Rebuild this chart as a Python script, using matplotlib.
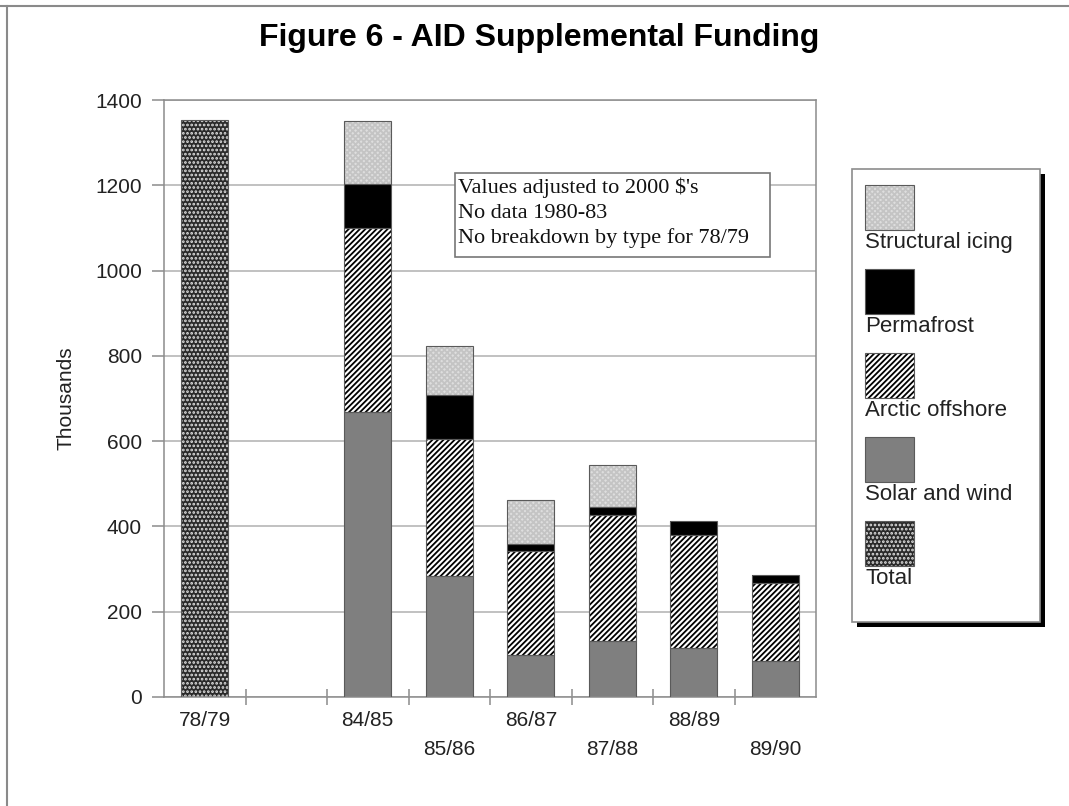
import numpy as np
import matplotlib
matplotlib.use("Agg")
import matplotlib.pyplot as plt
from matplotlib.patches import Rectangle
from matplotlib.lines import Line2D

plt.rcParams['font.family'] = ['Liberation Sans', 'DejaVu Sans']
plt.rcParams['hatch.linewidth'] = 1.3

# funding by year, in thousands of 2000 dollars
years = ['78/79', '', '84/85', '85/86', '86/87', '87/88', '88/89', '89/90']
total = np.array([1354, 0, 0, 0, 0, 0, 0, 0])
solar_wind = np.array([0, 0, 668, 284, 99, 132, 115, 85])
arctic_offshore = np.array([0, 0, 431, 321, 243, 294, 264, 182])
permafrost = np.array([0, 0, 105, 103, 16, 19, 33, 18])
structural_icing = np.array([0, 0, 146, 115, 105, 98, 0, 0])

note_lines = ["Values adjusted to 2000 $'s", "No data 1980-83",
              "No breakdown by type for 78/79"]

W, H = 1069, 806
fig = plt.figure(figsize=(W / 100, H / 100), dpi=100)
ax = fig.add_axes([164 / W, 1 - 697 / H, 652 / W, 597 / H])

# (label, values, fill colour, hatch, hatch colour)
stack = [
    ('Solar and wind', solar_wind, '#7f7f7f', None, '#7f7f7f'),
    ('Arctic offshore', arctic_offshore, 'white', '//////', 'black'),
    ('Permafrost', permafrost, 'black', None, 'black'),
    ('Structural icing', structural_icing, '#dedede', 'xxxxxx', '#c4c4c4'),
]
total_style = ('Total', total, '#2a2a2a', '....', '#e0e0e0')

x = np.arange(len(years))
width = 0.58


def draw_bars(xs, heights, bottoms, face, hatch, hcolor):
    ax.bar(xs, heights, width, bottom=bottoms, color=face, hatch=hatch,
           edgecolor=hcolor, linewidth=0, zorder=2)
    ax.bar(xs, heights, width, bottom=bottoms, facecolor='none',
           edgecolor='#5a5a5a', linewidth=0.8, zorder=3)


keep = total > 0
draw_bars(x[keep], total[keep], 0, *total_style[2:])

bottom = np.zeros(len(years))
for name, vals, face, hatch, hcolor in stack:
    keep = vals > 0
    draw_bars(x[keep], vals[keep], bottom[keep], face, hatch, hcolor)
    bottom = bottom + vals

# axes styling
ax.set_xlim(-0.5, len(years) - 0.5)
ax.set_ylim(0, 1400)
ax.set_yticks(np.arange(0, 1401, 200))
ax.yaxis.grid(True, color='#b0b0b0', linewidth=1.1)
ax.set_axisbelow(True)
for s in ax.spines.values():
    s.set_color('#8c8c8c')
    s.set_linewidth(1.1)

ax.set_xticks(x)
ax.set_xticklabels([y if i % 2 == 0 else '\n' + y for i, y in enumerate(years)])
ax.set_xticks(np.arange(0.5, len(years) - 0.5, 1), minor=True)
ax.tick_params(axis='x', which='major', length=0, pad=10, labelsize=15,
               labelcolor='#222222')
ax.tick_params(axis='x', which='minor', length=12, direction='inout',
               color='#8c8c8c', width=1.1)
ax.tick_params(axis='y', length=9, direction='out', color='#8c8c8c',
               width=1.1, pad=7, labelsize=15, labelcolor='#222222')
for lab in ax.get_xticklabels():
    lab.set_linespacing(1.65)

ax.set_ylabel('Thousands', fontsize=15, color='#222222')
ax.yaxis.set_label_coords(-0.1365, 0.5)

# note box, one text per line so the spacing stays even
ax.add_patch(Rectangle((0.446, 0.737), 0.483, 0.141, transform=ax.transAxes,
                       facecolor='white', edgecolor='#777777', linewidth=1.2,
                       zorder=4))
for i, line in enumerate(note_lines):
    base_px = 192.5 + 25.5 * i
    ax.text(0.4509, (697 - base_px) / 597, line, transform=ax.transAxes,
            ha='left', va='baseline', fontsize=16, family='Liberation Serif',
            color='#111111', zorder=5)

fig.text(539 / W, 1 - 38 / H, 'Figure 6 - AID Supplemental Funding',
         ha='center', va='center', fontsize=23, fontweight='bold')

# figure border (top and left)
fig.add_artist(Line2D([0, 1], [1 - 6 / H] * 2, color='#8a8a8a', linewidth=1.5))
fig.add_artist(Line2D([7 / W] * 2, [0, 1 - 6 / H], color='#8a8a8a', linewidth=1.5))


def fig_rect(x0, y0, w, h, **kw):
    # rectangle given in pixels from the top-left corner
    r = Rectangle((x0 / W, 1 - (y0 + h) / H), w / W, h / H,
                  transform=fig.transFigure, **kw)
    fig.add_artist(r)
    return r


# legend with shadow
fig_rect(857, 174, 188, 453, facecolor='black', edgecolor='none')
fig_rect(852, 169, 188, 453, facecolor='white', edgecolor='#8c8c8c', linewidth=1.2)

legend_items = list(reversed(stack)) + [total_style]
for i, (name, vals, face, hatch, hcolor) in enumerate(legend_items):
    top = 185 + 84 * i
    fig_rect(865, top, 49, 45, facecolor=face, hatch=hatch, edgecolor=hcolor,
             linewidth=0)
    fig_rect(865, top, 49, 45, facecolor='none', edgecolor='#5a5a5a', linewidth=0.8)
    fig.text(865 / W, 1 - (top + 47) / H, name, ha='left', va='top',
             fontsize=16, color='#222222')

fig.savefig('out.png', dpi=100)
